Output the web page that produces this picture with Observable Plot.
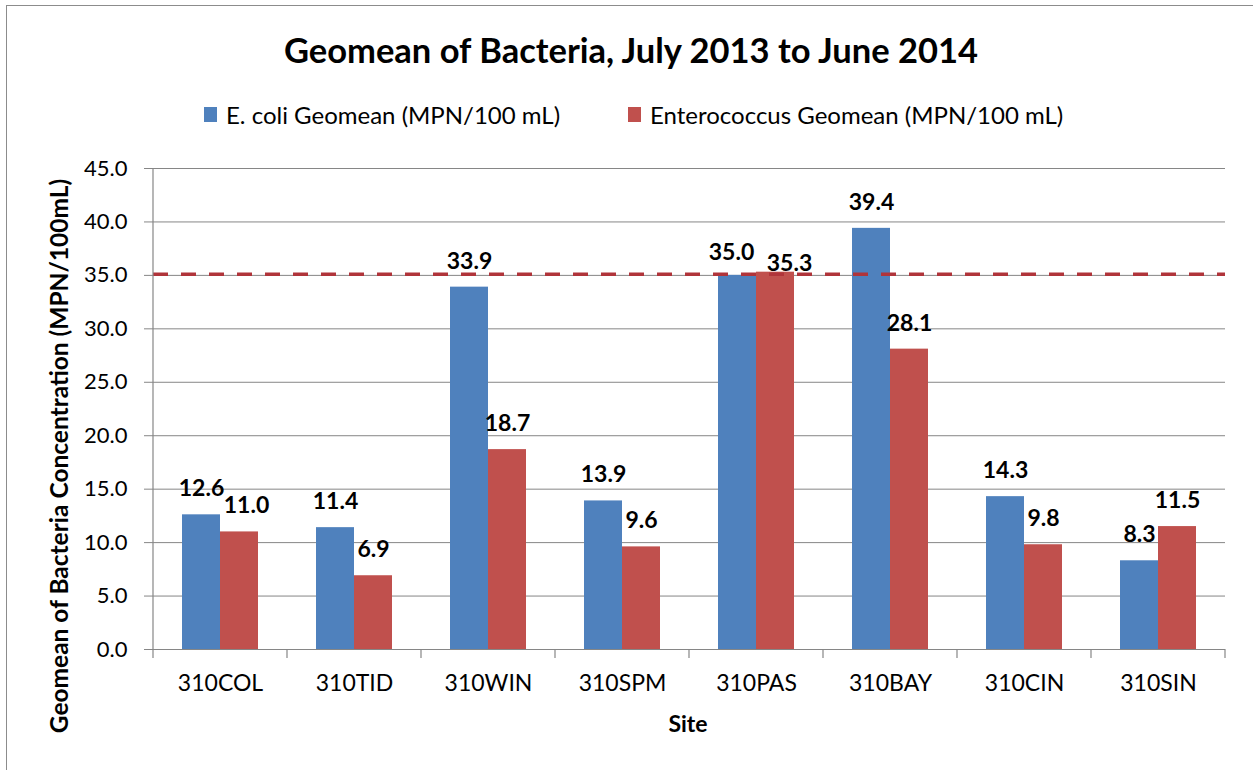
<!DOCTYPE html>
<html><head><meta charset="utf-8">
<script src="https://cdn.jsdelivr.net/npm/d3@7"></script>
<script src="https://cdn.jsdelivr.net/npm/@observablehq/plot@0.6"></script>
<style>
body{margin:0;background:#fff;font-family:Lato,"Open Sans",sans-serif;color:#000;}
#wrap{position:relative;width:1253px;height:770px;overflow:hidden;background:#fff;}
#frame{position:absolute;left:6px;top:5px;width:1400px;height:900px;border-left:1px solid #8c8c8c;border-top:1px solid #8c8c8c;}
#title{position:absolute;left:0;width:1262px;top:29px;text-align:center;font-weight:bold;font-size:34.5px;line-height:42px;white-space:nowrap;}
.leg{position:absolute;top:101px;height:28px;line-height:28px;font-size:24px;white-space:nowrap;}
.sw{position:absolute;left:0;top:6px;width:13px;height:15px;}
.lt{position:absolute;left:22px;top:0;}
#ylab{position:absolute;left:58px;top:456px;transform:translate(-50%,-50%) rotate(-90deg);font-weight:bold;font-size:24.5px;white-space:nowrap;}
#xlab{position:absolute;left:688px;top:723px;transform:translate(-50%,-50%);font-weight:bold;font-size:23px;white-space:nowrap;}
#chart{position:absolute;left:0;top:140px;}
</style></head>
<body><div id="wrap">
<div id="frame"></div>
<div id="title"></div>
<div class="leg" id="leg1" style="left:204px"><div class="sw"></div><div class="lt"></div></div>
<div class="leg" id="leg2" style="left:628px"><div class="sw"></div><div class="lt"></div></div>
<div id="ylab"></div>
<div id="xlab"></div>
<div id="chart"></div>
</div>
<script>
const titleText = "Geomean of Bacteria, July 2013 to June 2014";
const seriesNames = ["E. coli Geomean (MPN/100 mL)", "Enterococcus Geomean (MPN/100 mL)"];
const seriesColors = ["#4F81BD", "#C0504D"];
const sites = ["310COL","310TID","310WIN","310SPM","310PAS","310BAY","310CIN","310SIN"];
const ecoli = [12.6, 11.4, 33.9, 13.9, 35.0, 39.4, 14.3, 8.3];
const entero = [11.0, 6.9, 18.7, 9.6, 35.3, 28.1, 9.8, 11.5];
const yTicks = [0,5,10,15,20,25,30,35,40,45];
const threshold = 35.1;
const yTitle = "Geomean of Bacteria Concentration (MPN/100mL)";
const xTitle = "Site";

document.getElementById("title").textContent = titleText;
["leg1","leg2"].forEach((id,i)=>{
  const el = document.getElementById(id);
  el.querySelector(".sw").style.background = seriesColors[i];
  el.querySelector(".lt").textContent = seriesNames[i];
});
document.getElementById("ylab").textContent = yTitle;
document.getElementById("xlab").textContent = xTitle;

const ecoliRows = sites.map((s,i)=>({site:s, value:ecoli[i]}));
const enteroRows = sites.map((s,i)=>({site:s, value:entero[i]}));
const fmt = d => d.value.toFixed(1);
const lab = {fontWeight:"bold", fontSize:23, fill:"black", text: fmt, x:"site", y:"value"};

const chart = Plot.plot({
  width:1253, height:620,
  marginLeft:153, marginRight:28, marginTop:28, marginBottom:111,
  style:{fontFamily:"Lato, 'Open Sans', sans-serif", fontSize:"22px", color:"black", background:"transparent", overflow:"visible"},
  x:{domain:sites, paddingInner:0.433, paddingOuter:0.2165, label:null},
  y:{domain:[0,45], label:null},
  marks:[
    Plot.ruleY(yTicks.filter(d=>d>0), {stroke:"#868686", strokeWidth:1}),
    Plot.barY(ecoliRows, {x:"site", y:"value", fill:seriesColors[0], insetRight:38}),
    Plot.barY(enteroRows, {x:"site", y:"value", fill:seriesColors[1], insetLeft:38}),
    Plot.ruleY([threshold], {stroke:"#B0343A", strokeWidth:3.5, strokeDasharray:"15,13"}),
    Plot.ruleY([0], {stroke:"#868686", strokeWidth:1.2}),
    Plot.axisY({ticks:yTicks, tickFormat:d=>d.toFixed(1), tickSize:9, tickPadding:17, stroke:"#868686", fill:"black", fontSize:22, label:null}),
    Plot.axisX({tickSize:0, tickPadding:25, fontSize:23, fill:"black", label:null}),
    Plot.text(ecoliRows.filter(d=>d.site!=="310PAS"), {...lab, dx:-19, dy:-26}),
    Plot.text(ecoliRows.filter(d=>d.site==="310PAS"), {...lab, dx:-25, dy:-23}),
    Plot.text(enteroRows.filter(d=>d.site!=="310PAS" && d.site!=="310COL"), {...lab, dx:19, dy:-26}),
    Plot.text(enteroRows.filter(d=>d.site==="310COL"), {...lab, dx:26, dy:-26}),
    Plot.text(enteroRows.filter(d=>d.site==="310PAS"), {...lab, dx:33, dy:-9})
  ]
});
document.getElementById("chart").appendChild(chart);

const xs = chart.scale("x"), ys = chart.scale("y");
const svg = d3.select(chart);
const yb = ys.apply(0), yt = ys.apply(45);
const bounds = sites.map(s => xs.apply(s) + xs.bandwidth/2 - xs.step/2);
bounds.push(bounds[bounds.length-1] + xs.step);
const g = svg.append("g").attr("stroke","#868686").attr("stroke-width",1.2);
g.append("line").attr("x1",bounds[0]).attr("x2",bounds[0]).attr("y1",yt).attr("y2",yb);
bounds.forEach(b => g.append("line").attr("x1",b).attr("x2",b).attr("y1",yb).attr("y2",yb+9));
</script>
</body></html>
